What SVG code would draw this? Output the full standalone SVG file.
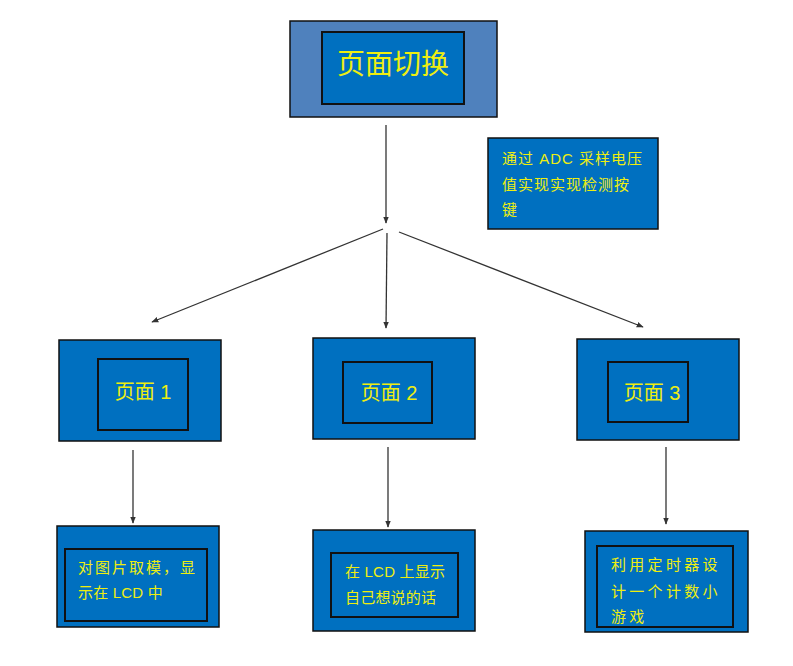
<svg xmlns="http://www.w3.org/2000/svg" width="793" height="666" viewBox="0 0 793 666">
<defs>
<style>
.outer{fill:#0070C0;stroke:#111;stroke-width:1.5}
.inner{fill:#0070C0;stroke:#111;stroke-width:2}
.t{fill:#EEEE10;font-family:"Liberation Sans","Noto Sans CJK SC",sans-serif}
.s{font-size:15px;letter-spacing:1px}
.s0{letter-spacing:0.2px}
.s2{letter-spacing:2px}
.s3{letter-spacing:3.3px}
.m{font-size:20px;text-anchor:middle}
.c{stroke:#333;stroke-width:1.3;fill:none;marker-end:url(#ah)}
</style>
<marker id="ah" viewBox="0 0 10 10" refX="9" refY="5" markerWidth="7" markerHeight="7" orient="auto-start-reverse" markerUnits="userSpaceOnUse">
<path d="M0,1 L10,5 L0,9 Z" fill="#333"/>
</marker>
</defs>
<rect width="793" height="666" fill="#fff"/>
<g id="top">
<rect x="290" y="21" width="207" height="96" fill="#4F81BD" stroke="#111" stroke-width="1.5"/>
<rect x="322" y="32" width="142" height="72" class="inner"/>
<text x="393" y="74" class="t" font-size="28" text-anchor="middle">页面切换</text>
</g>
<g id="adc">
<rect x="488" y="138" width="170" height="91" class="outer"/>
<text class="t s" x="502" y="164">通过 ADC 采样电压</text>
<text class="t s" x="502" y="190">值实现实现检测按</text>
<text class="t s" x="502" y="215">键</text>
</g>
<g id="page1">
<rect x="59" y="340" width="162" height="101" class="outer"/>
<rect x="98" y="359" width="90" height="71" class="inner"/>
<text class="t m" x="143" y="399">页面 1</text>
</g>
<g id="page2">
<rect x="313" y="338" width="162" height="101" class="outer"/>
<rect x="343" y="362" width="89" height="61" class="inner"/>
<text class="t m" x="389" y="400">页面 2</text>
</g>
<g id="page3">
<rect x="577" y="339" width="162" height="101" class="outer"/>
<rect x="608" y="362" width="80" height="60" class="inner"/>
<text class="t m" x="652" y="400">页面 3</text>
</g>
<g id="desc1">
<rect x="57" y="526" width="162" height="101" class="outer"/>
<rect x="65" y="549" width="142" height="72" class="inner"/>
<text class="t s s2" x="78" y="573">对图片取模，显</text>
<text class="t s s0" x="78" y="598">示在 LCD 中</text>
</g>
<g id="desc2">
<rect x="313" y="530" width="162" height="101" class="outer"/>
<rect x="331" y="553" width="127" height="64" class="inner"/>
<text class="t s s0" x="345" y="577">在 LCD 上显示</text>
<text class="t s s0" x="345" y="603">自己想说的话</text>
</g>
<g id="desc3">
<rect x="585" y="531" width="163" height="101" class="outer"/>
<rect x="597" y="546" width="136" height="81" class="inner"/>
<text class="t s s3" x="611" y="570">利用定时器设</text>
<text class="t s s3" x="611" y="597">计一个计数小</text>
<text class="t s s3" x="611" y="622">游戏</text>
</g>
<g id="connectors">
<path class="c" d="M386,125 L386,223"/>
<path class="c" d="M383,229 L152,322"/>
<path class="c" d="M387,233 L386,328"/>
<path class="c" d="M399,232 L643,327"/>
<path class="c" d="M133,450 L133,523"/>
<path class="c" d="M388,447 L388,527"/>
<path class="c" d="M666,447 L666,524"/>
</g>
</svg>
